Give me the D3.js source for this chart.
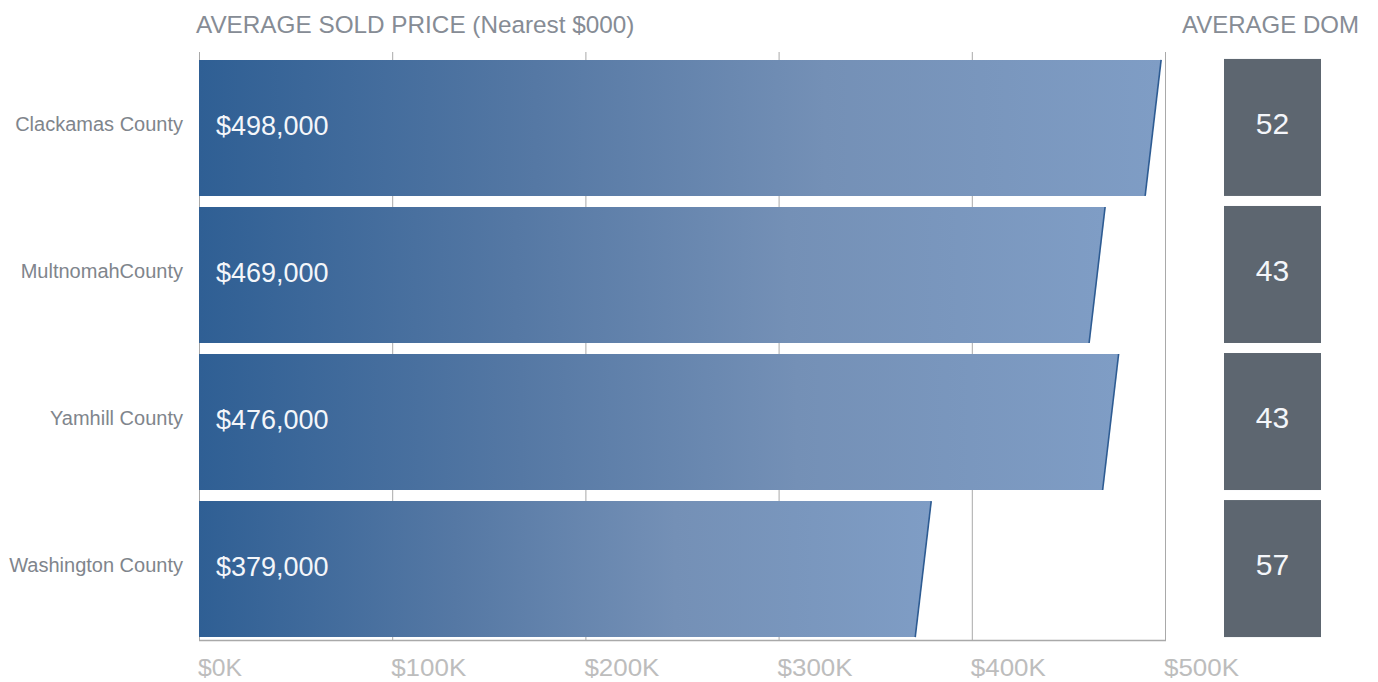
<!DOCTYPE html>
<html><head><meta charset="utf-8">
<script src="https://cdn.jsdelivr.net/npm/d3@7"></script>
<style>
body{margin:0;background:#fff;}
svg{display:block;font-family:"Liberation Sans",Arial,sans-serif;}
</style></head>
<body><svg id="c" width="1378" height="682"></svg>
<script>
const categories = ["Clackamas County","MultnomahCounty","Yamhill County","Washington County"];
const prices = [498000, 469000, 476000, 379000];
const priceLabels = ["$498,000","$469,000","$476,000","$379,000"];
const dom = [52, 43, 43, 57];
const tickValues = [0,100000,200000,300000,400000,500000];
const tickLabels = ["$0K","$100K","$200K","$300K","$400K","$500K"];

const svg = d3.select("#c");
const x = d3.scaleLinear().domain([0,500000]).range([199,1165]);
const y = d3.scaleBand().domain(categories).range([57,640]).paddingInner(0.075).paddingOuter(0.02);

const defs = svg.append("defs");
const grad = defs.append("linearGradient").attr("id","g").attr("x1","0").attr("x2","1").attr("y1","0").attr("y2","0");
grad.append("stop").attr("offset","0").attr("stop-color","#2f5f94");
grad.append("stop").attr("offset","0.35").attr("stop-color","#5578a4");
grad.append("stop").attr("offset","0.65").attr("stop-color","#7490b6");
grad.append("stop").attr("offset","1").attr("stop-color","#7f9dc5");

// gridlines
svg.append("g").selectAll("line").data(tickValues).join("line")
  .attr("x1",d=>x(d)+0.5).attr("x2",d=>x(d)+0.5).attr("y1",52).attr("y2",640)
  .attr("stroke","#a9a9a9").attr("stroke-width",1);
// axis baseline
svg.append("line").attr("x1",x(0)).attr("x2",x(500000)+1).attr("y1",640.5).attr("y2",640.5)
  .attr("stroke","#a9a9a9").attr("stroke-width",1.5);

// tick labels
svg.append("g").selectAll("text").data(tickValues).join("text")
  .attr("x",d=>x(d)-1).attr("y",676).attr("font-size",24).attr("fill","#bdbdbd")
  .attr("textLength",(d,i)=>i===0?44:75).attr("lengthAdjust","spacingAndGlyphs")
  .text((d,i)=>tickLabels[i]);

const slant = 16;
const bars = svg.append("g").selectAll("g").data(categories).join("g");
bars.append("path")
  .attr("d",(d,i)=>{
    const y0=y(d), y1=y(d)+y.bandwidth(), xr=x(prices[i]);
    return `M${x(0)},${y0}L${xr},${y0}L${xr-slant},${y1}L${x(0)},${y1}Z`;
  })
  .attr("fill","url(#g)");
bars.append("line")
  .attr("x1",(d,i)=>x(prices[i])).attr("y1",d=>y(d))
  .attr("x2",(d,i)=>x(prices[i])-slant).attr("y2",d=>y(d)+y.bandwidth())
  .attr("stroke","#2d5b92").attr("stroke-width",1.6);
bars.append("text")
  .attr("x",216).attr("y",d=>y(d)+y.bandwidth()/2+7)
  .attr("font-size",27).attr("fill","#f4f6fa")
  .text((d,i)=>priceLabels[i]);
// category labels
bars.append("text")
  .attr("x",183).attr("y",d=>y(d)+y.bandwidth()/2+3)
  .attr("text-anchor","end").attr("font-size",20).attr("fill","#80858c")
  .text(d=>d);

// DOM boxes
const dg = svg.append("g").selectAll("g").data(categories).join("g");
dg.append("rect").attr("x",1224).attr("width",97)
  .attr("y",d=>y(d)-1).attr("height",y.bandwidth()+1)
  .attr("fill","#5d6670");
dg.append("text").attr("x",1272.5).attr("y",d=>y(d)+y.bandwidth()/2+6)
  .attr("text-anchor","middle").attr("font-size",30).attr("fill","#f4f6fa")
  .text((d,i)=>dom[i]);

// titles
svg.append("text").attr("x",196).attr("y",33).attr("font-size",24.3).attr("fill","#868c95")
  .text("AVERAGE SOLD PRICE (Nearest $000)");
svg.append("text").attr("x",1182).attr("y",33).attr("font-size",24).attr("fill","#868c95")
  .text("AVERAGE DOM");
</script></body></html>
